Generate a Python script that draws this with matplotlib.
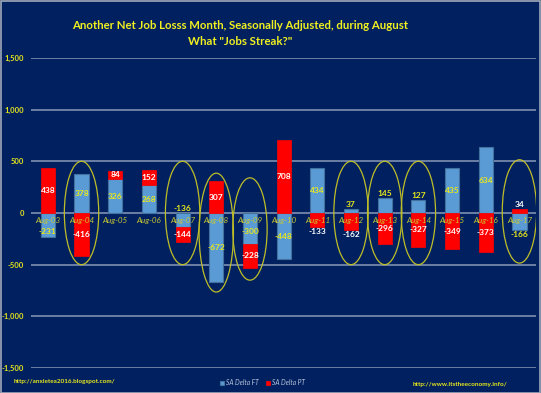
import matplotlib
matplotlib.use("Agg")
import matplotlib.pyplot as plt
from matplotlib.patches import Ellipse, Rectangle
import numpy as np

plt.rcParams['font.family'] = ['Lato', 'DejaVu Sans']

categories = ["Aug-03", "Aug-04", "Aug-05", "Aug-06", "Aug-07", "Aug-08", "Aug-09", "Aug-10",
              "Aug-11", "Aug-12", "Aug-13", "Aug-14", "Aug-15", "Aug-16", "Aug-17"]
sa_delta_ft = [-231, 378, 326, 268, -136, -672, -300, -448, 434, 37, 145, 127, 435, 634, -166]
sa_delta_pt = [438, -416, 84, 152, -144, 307, -228, 708, -133, -162, -296, -327, -349, -373, 34]
circled = ["Aug-04", "Aug-07", "Aug-08", "Aug-09", "Aug-12", "Aug-13", "Aug-14", "Aug-17"]
yticks = [-1500, -1000, -500, 0, 500, 1000, 1500]

BG = '#012060'
BLUE = '#5B9BD5'
RED = '#FF0000'
YEL = '#E8E81C'
OLIVE = '#C8C832'
GRID = '#8A9AB8'

fig = plt.figure(figsize=(5.41, 3.93), dpi=100, facecolor=BG)
ax = fig.add_axes([0.0573, 0.0636, 0.934, 0.789], facecolor=BG)

x = np.arange(len(categories))
ft = np.array(sa_delta_ft, dtype=float)
pt = np.array(sa_delta_pt, dtype=float)
# Excel-style stacking: positives stack upward, negatives downward
pt_bottom = np.where(np.sign(pt) == np.sign(ft), ft, 0.0)

w = 0.42
ax.bar(x, ft, width=w, color=BLUE, edgecolor='#41719C', linewidth=0.8, zorder=3, label='SA Delta FT')
ax.bar(x, pt, width=w, bottom=pt_bottom, color=RED, edgecolor=RED, linewidth=0.5, zorder=3, label='SA Delta PT')

ax.set_ylim(-1500, 1500)
ax.set_xlim(-0.5, len(categories) - 0.5)
ax.set_yticks(yticks)
ax.set_yticklabels([f"{v:,}" for v in yticks], color=YEL, fontsize=5.5, fontweight='bold')
ax.tick_params(axis='y', length=0, pad=5)
ax.set_xticks([])
for s in ax.spines.values():
    s.set_visible(False)
ax.grid(axis='y', color=GRID, linewidth=1.1, zorder=1)
ax.set_axisbelow(True)

# category labels at zero line
for i, c in enumerate(categories):
    ax.text(i, -35, c, ha='center', va='top', color=OLIVE, fontsize=5.8, style='italic', zorder=5)

# value labels
pad = 45
for i in range(len(categories)):
    f, p, pb = ft[i], pt[i], pt_bottom[i]
    stacked = np.sign(p) == np.sign(f)
    # FT label
    if abs(f) < 200:
        if stacked:
            yf = -np.sign(f) * pad
        else:
            yf = f + np.sign(f) * pad
    elif f < 0:
        yf = min(f / 2, -180)
    else:
        yf = f / 2
    ax.text(i, yf, f"{int(f)}", ha='center', va='center', color=YEL, fontsize=6, fontweight='bold', zorder=6)
    # PT label
    if abs(p) < 200 and not stacked:
        yp = p + np.sign(p) * pad
    else:
        yp = pb + p / 2
    ax.text(i, yp, f"{int(p)}", ha='center', va='center', color='white', fontsize=6, fontweight='bold', zorder=6)

# highlight ellipses
ell_spec = {"Aug-04": (0, 1000), "Aug-07": (0, 1000), "Aug-08": (-190, 1150), "Aug-09": (-155, 990),
            "Aug-12": (0, 1000), "Aug-13": (0, 1000), "Aug-14": (0, 1000), "Aug-17": (15, 1000)}
for c in circled:
    i = categories.index(c)
    cy, h = ell_spec[c]
    ax.add_patch(Ellipse((i, cy), 1.02, h, fill=False, edgecolor='#BEBE28', linewidth=0.9, zorder=7))

# title
fig.text(0.444, 0.934, "Another Net Job Losss Month, Seasonally Adjusted, during August",
         ha='center', va='center', color='#F0F020', fontsize=8.2, fontweight='bold')
fig.text(0.444, 0.895, 'What "Jobs Streak?"', ha='center', va='center', color='#F0F020',
         fontsize=8.2, fontweight='bold')

# footer
fig.text(0.026, 0.028, "http://anxietea2016.blogspot.com/", ha='left', va='center', color=YEL,
         fontsize=4.6, fontweight='bold')
fig.text(0.937, 0.022, "http://www.itstheeconomy.info/", ha='right', va='center', color=YEL,
         fontsize=4.6, fontweight='bold')

leg = ax.legend(loc='center', ncol=2, frameon=False, fontsize=4.8, handlelength=0.6, handleheight=0.6,
                handletextpad=0.3, columnspacing=1.2)
for t in leg.get_texts():
    t.set_color('#B8C4DA')
    t.set_style('italic')
leg.set_bbox_to_anchor((0.485, 0.026), transform=fig.transFigure)

fig.patches.append(Rectangle((0.001, 0.001), 0.997, 0.997, transform=fig.transFigure, fill=False,
                             edgecolor='#A0A8B8', linewidth=1.2))

fig.savefig("out.png", dpi=100, facecolor=BG)
